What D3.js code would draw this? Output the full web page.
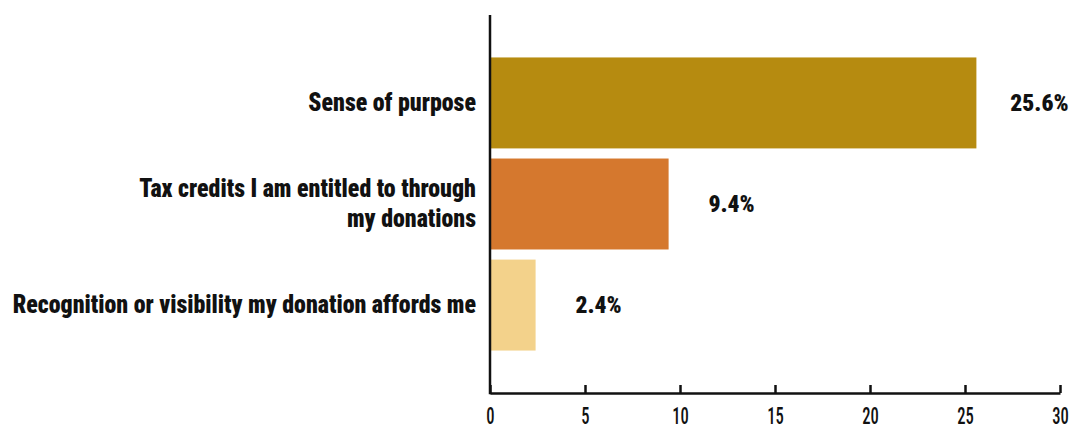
<!DOCTYPE html>
<html>
<head>
<meta charset="utf-8">
<script src="https://cdn.jsdelivr.net/npm/d3@7"></script>
<style>
  html, body { margin: 0; padding: 0; background: #fff; }
  svg { display: block; }
  text { font-family: "Roboto Condensed", Roboto, "Liberation Sans Narrow", sans-serif; fill: #111; }
</style>
</head>
<body>
<svg id="chart" width="1071" height="428"></svg>
<script>
// Motivations for giving, share of respondents (%)
const categories = [
  ["Sense of purpose"],
  ["Tax credits I am entitled to through", "my donations"],
  ["Recognition or visibility my donation affords me"]
];
const values = [25.6, 9.4, 2.4];
const valueLabels = ["25.6%", "9.4%", "2.4%"];
const barColors = ["#b68b10", "#d5782e", "#f3d28b"];
const xTicks = [0, 5, 10, 15, 20, 25, 30];

const svg = d3.select("#chart");
const plotLeft = 490, plotRight = 1060, plotTop = 15, plotBottom = 393;

const x = d3.scaleLinear().domain([0, 30]).range([plotLeft, plotRight]);
const y = d3.scaleBand()
  .domain(d3.range(values.length))
  .range([plotTop, plotBottom])
  .paddingInner(0.1)
  .paddingOuter(0.42);

// bars
svg.append("g").selectAll("rect")
  .data(values)
  .join("rect")
  .attr("x", x(0))
  .attr("y", (d, i) => y(i))
  .attr("width", d => x(d) - x(0))
  .attr("height", y.bandwidth())
  .attr("fill", (d, i) => barColors[i]);

// value labels
svg.append("g").selectAll("g")
  .data(values)
  .join("g")
  .attr("transform", (d, i) => `translate(${x(d) + 63},${y(i) + y.bandwidth() / 2}) scale(0.98,1)`)
  .append("text")
  .attr("text-anchor", "middle")
  .attr("dy", "0.35em")
  .style("font-size", "24px")
  .style("font-weight", 900)
  .text((d, i) => valueLabels[i]);

// category labels
const lineGap = 30;
const cat = svg.append("g").selectAll("g")
  .data(categories)
  .join("g")
  .attr("transform", (d, i) => `translate(${plotLeft - 14},${y(i) + y.bandwidth() / 2}) scale(0.92,1)`)
  .append("text")
  .attr("text-anchor", "end")
  .style("font-size", "26px")
  .style("font-weight", 900);
cat.each(function(lines) {
  const t = d3.select(this);
  lines.forEach((ln, k) => {
    t.append("tspan")
      .attr("x", 0)
      .attr("y", (k - (lines.length - 1) / 2) * lineGap)
      .attr("dy", "0.32em")
      .text(ln);
  });
});

// x axis
const xAxis = d3.axisBottom(x).tickValues(xTicks).tickSize(-8).tickPadding(0).tickSizeOuter(0);
const gx = svg.append("g").attr("transform", `translate(0,${plotBottom})`).call(xAxis);
gx.select(".domain").attr("stroke", "#111").attr("stroke-width", 2.5);
gx.selectAll(".tick line").attr("stroke", "#111").attr("stroke-width", 2.5);
gx.selectAll(".tick text").remove();
gx.selectAll(".tick").append("g")
  .attr("transform", "translate(0,22.5) scale(0.72,1)")
  .append("text")
  .attr("text-anchor", "middle")
  .attr("dy", "0.35em")
  .style("font-size", "23px")
  .style("font-weight", 500)
  .text(d => d);

// y axis line
svg.append("line")
  .attr("x1", plotLeft).attr("x2", plotLeft)
  .attr("y1", plotTop).attr("y2", plotBottom + 1.25)
  .attr("stroke", "#111")
  .attr("stroke-width", 2.5);
</script>
</body>
</html>
